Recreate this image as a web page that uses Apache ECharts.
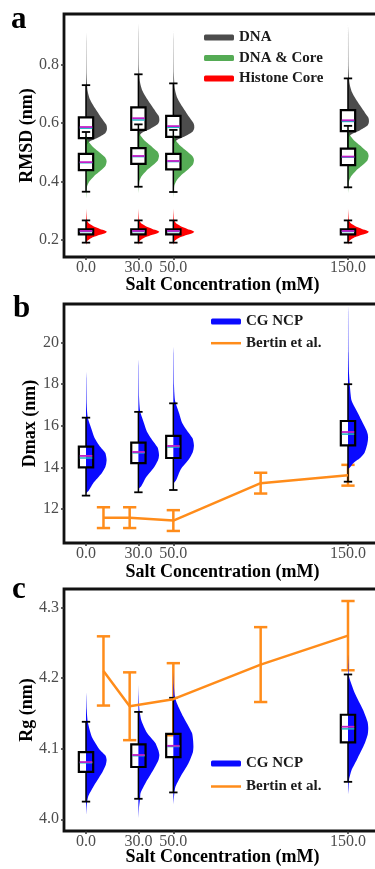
<!DOCTYPE html>
<html>
<head>
<meta charset="utf-8">
<script src="https://cdn.jsdelivr.net/npm/echarts@6/dist/echarts.min.js"></script>
<style>
  html, body { margin: 0; padding: 0; background: #fff; }
  #chart { width: 375px; height: 869px; }
</style>
</head>
<body>
<div id="chart"></div>
<script>
// salt concentrations (mM) of the simulations
const saltTicks = [0, 30, 50, 150];

// panel a: box stats per salt [low whisker, q1, median, q3, high whisker, mean]
const dnaBox = [
  [0.46, 0.548, 0.582, 0.619, 0.729, 0.586],
  [0.462, 0.576, 0.61, 0.653, 0.766, 0.616],
  [0.46, 0.552, 0.585, 0.624, 0.735, 0.589],
  [0.462, 0.572, 0.605, 0.644, 0.752, 0.609],
];
const coreDnaBox = [
  [0.365, 0.439, 0.464, 0.494, 0.569, 0.466],
  [0.382, 0.46, 0.485, 0.514, 0.595, 0.487],
  [0.364, 0.441, 0.468, 0.494, 0.576, 0.47],
  [0.38, 0.456, 0.483, 0.512, 0.59, 0.485],
];
const histoneBox = [
  [0.191, 0.219, 0.229, 0.2365, 0.267, 0.231],
  [0.191, 0.219, 0.229, 0.2365, 0.267, 0.231],
  [0.191, 0.219, 0.229, 0.2365, 0.267, 0.231],
  [0.191, 0.219, 0.229, 0.2365, 0.267, 0.231],
];
// panel a: density peaks and half-violin shapes [offset from peak, half width in mM]
const dnaPeak = [0.58, 0.61, 0.585, 0.605];
const coreDnaPeak = [0.468, 0.487, 0.472, 0.487];
const histonePeak = [0.228, 0.228, 0.228, 0.228];
const dnaShape = [[-0.06, 0], [-0.045, 1.7], [-0.03, 6.9], [-0.015, 11.0], [-0.007, 11.8], [0, 12], [0.008, 11.9], [0.015, 11.5], [0.03, 9.7], [0.05, 7.4], [0.07, 5.2], [0.1, 2.3], [0.13, 0.9], [0.18, 0.3], [0.3, 0.1], [0.33, 0]];
const coreDnaShape = [[-0.13, 0], [-0.11, 0.2], [-0.085, 0.6], [-0.07, 1.7], [-0.05, 4.6], [-0.03, 8.6], [-0.015, 11.1], [-0.007, 11.6], [0, 11.8], [0.007, 11.6], [0.015, 10.9], [0.03, 8], [0.05, 4], [0.07, 1.2], [0.085, 0.3], [0.1, 0]];
const histoneShape = [[-0.045, 0], [-0.03, 0.9], [-0.02, 3.4], [-0.01, 8], [-0.004, 11.2], [0, 12], [0.004, 11], [0.01, 8], [0.02, 4], [0.03, 1.4], [0.04, 0.5], [0.06, 0.2], [0.08, 0]];

// panel b: Dmax (nm)
const dmaxBox = [
  [12.64, 14.0, 14.45, 15.0, 16.39, 14.55],
  [12.8, 14.2, 14.7, 15.19, 16.67, 14.74],
  [12.91, 14.45, 14.98, 15.51, 17.08, 15.03],
  [13.31, 15.06, 15.6, 16.23, 18.0, 15.7],
];
const dmaxViolin = [
  [[12.75, 0], [12.9, 1.7], [13.25, 4.2], [13.72, 9], [14.0, 11], [14.2, 11.6], [14.35, 11.8], [14.5, 11.6], [14.7, 11], [15.0, 8], [15.4, 5], [15.8, 3.3], [16.4, 1], [17.0, 0.4], [18.3, 0.15], [18.6, 0]],
  [[12.95, 0], [13.1, 1.7], [13.5, 4.2], [14.0, 9], [14.3, 11], [14.45, 11.6], [14.6, 11.8], [14.75, 11.6], [14.95, 11], [15.3, 8], [15.7, 5], [16.1, 3.3], [16.7, 1], [17.3, 0.4], [18.9, 0.15], [19.2, 0]],
  [[13.2, 0], [13.4, 1.7], [13.9, 4.2], [14.4, 9], [14.7, 11], [14.9, 11.6], [15.05, 11.8], [15.2, 11.6], [15.4, 11], [15.75, 8], [16.15, 5], [16.6, 3.3], [17.2, 1], [17.9, 0.4], [19.5, 0.15], [19.8, 0]],
  [[13.9, 0], [14.0, 1.2], [14.2, 3], [14.45, 6.9], [14.7, 9.5], [15.1, 11], [15.3, 11.4], [15.45, 11.5], [15.6, 11.3], [15.8, 10.5], [16.3, 7.5], [16.6, 5.7], [17.2, 2.1], [17.8, 1.2], [18.5, 0.6], [19.5, 0.3], [21.5, 0.1], [21.8, 0]],
];

// panel c: Rg (nm)
const rgBox = [
  [4.025, 4.067, 4.08, 4.095, 4.138, 4.081],
  [4.029, 4.074, 4.09, 4.106, 4.152, 4.091],
  [4.038, 4.088, 4.103, 4.121, 4.172, 4.104],
  [4.053, 4.109, 4.128, 4.148, 4.205, 4.131],
];
const rgViolin = [
  [[4.005, 0], [4.02, 0.4], [4.032, 1.2], [4.046, 4.2], [4.065, 9], [4.077, 11.3], [4.084, 11.8], [4.09, 11.2], [4.098, 8], [4.117, 3.3], [4.138, 1], [4.155, 0.4], [4.175, 0.1], [4.18, 0]],
  [[4.0, 0], [4.015, 0.3], [4.03, 1], [4.037, 1.2], [4.051, 4], [4.07, 8.6], [4.084, 11.5], [4.091, 12], [4.098, 11.4], [4.108, 9.7], [4.122, 5], [4.14, 1.7], [4.155, 0.6], [4.175, 0.2], [4.19, 0]],
  [[4.02, 0], [4.035, 0.5], [4.046, 1.2], [4.06, 4], [4.079, 8.6], [4.095, 11.2], [4.103, 11.5], [4.112, 11.3], [4.122, 10.7], [4.145, 5.7], [4.164, 2.1], [4.175, 0.8], [4.19, 0.3], [4.21, 0]],
  [[4.035, 0], [4.045, 0.3], [4.056, 0.6], [4.07, 2.1], [4.084, 5], [4.108, 9.7], [4.12, 11.3], [4.129, 11.6], [4.138, 11.2], [4.155, 8.6], [4.178, 4], [4.202, 0.6], [4.22, 0.2], [4.235, 0]],
];

// Bertin et al. experiment
const bertinSalt = [10, 25, 50, 100, 150];
const bertinDmax = [11.58, 11.58, 11.44, 13.24, 13.62];
const bertinDmaxErr = [0.5, 0.5, 0.5, 0.5, 0.5];
const bertinRg = [4.21, 4.16, 4.17, 4.219, 4.26];
const bertinRgErr = [0.049, 0.048, 0.051, 0.053, 0.049];

const SERIF = "'Liberation Serif', 'DejaVu Serif', serif";
const ORANGE = '#ff8c1a';
const BLUE = '#0a0aff';
const BOX_HALF = 4.1;   // mM
const CAP_HALF = 2.4;   // mM
const ERR_CAP = 3.8;    // mM

const chart = echarts.init(document.getElementById('chart'));

function violinSeries(name, grid, color, opacity, profiles) {
  return {
    type: 'custom', name, xAxisIndex: grid, yAxisIndex: grid,
    itemStyle: { color, opacity },
    data: saltTicks.map((x, i) => [x, profiles[i][0][0]]),
    renderItem: (params, api) => {
      const x = api.value(0);
      const prof = profiles[params.dataIndex];
      const right = prof.map(p => api.coord([x + p[1], p[0]]));
      const left = prof.slice().reverse().map(p => api.coord([x, p[0]]));
      return { type: 'polygon', shape: { points: right.concat(left), smooth: 0.2 }, style: { fill: color, opacity } };
    },
  };
}

function shaped(peaks, shape) {
  return peaks.map(pk => shape.map(([off, w]) => [pk + off, w]));
}

function boxSeries(name, grid, stats, fill) {
  return {
    type: 'custom', name, xAxisIndex: grid, yAxisIndex: grid,
    data: stats.map((s, i) => [saltTicks[i], ...s]),
    renderItem: (params, api) => {
      const x = api.value(0);
      const [lo, q1, med, q3, hi, mean] = [1, 2, 3, 4, 5, 6].map(d => api.value(d));
      const p = (dx, v) => api.coord([x + dx, v]);
      const seg = (a, b, stroke, lineWidth) => ({ type: 'line', shape: { x1: a[0], y1: a[1], x2: b[0], y2: b[1] }, style: { stroke, lineWidth } });
      const bl = p(-BOX_HALF, q1), tr = p(BOX_HALF, q3);
      return {
        type: 'group',
        children: [
          seg(p(0, lo), p(0, q1), '#000', 1.5),
          seg(p(0, q3), p(0, hi), '#000', 1.5),
          seg(p(-CAP_HALF, lo), p(CAP_HALF, lo), '#000', 1.8),
          seg(p(-CAP_HALF, hi), p(CAP_HALF, hi), '#000', 1.8),
          { type: 'rect', shape: { x: bl[0], y: tr[1], width: tr[0] - bl[0], height: bl[1] - tr[1] }, style: { fill, stroke: '#000', lineWidth: 2.2 } },
          seg(p(-BOX_HALF + 0.5, med), p(BOX_HALF - 0.5, med), '#1fb5c0', 1.5),
          seg(p(-BOX_HALF + 0.5, mean), p(BOX_HALF - 0.5, mean), '#c21fc8', 1.8),
        ],
      };
    },
  };
}

function bertinLine(grid, ys) {
  return {
    type: 'line', name: 'Bertin et al.', xAxisIndex: grid, yAxisIndex: grid,
    data: bertinSalt.map((x, i) => [x, ys[i]]),
    symbol: 'none', color: ORANGE,
    lineStyle: { width: 2.5, color: ORANGE }, itemStyle: { color: ORANGE },
  };
}

function bertinErr(grid, ys, errs) {
  return {
    type: 'custom', name: 'Bertin err', xAxisIndex: grid, yAxisIndex: grid,
    data: bertinSalt.map((x, i) => [x, ys[i], errs[i]]),
    renderItem: (params, api) => {
      const x = api.value(0), y = api.value(1), e = api.value(2);
      const p = (dx, v) => api.coord([x + dx, v]);
      const seg = (a, b) => ({ type: 'line', shape: { x1: a[0], y1: a[1], x2: b[0], y2: b[1] }, style: { stroke: ORANGE, lineWidth: 2.5 } });
      return {
        type: 'group',
        children: [seg(p(0, y - e), p(0, y + e)), seg(p(-ERR_CAP, y - e), p(ERR_CAP, y - e)), seg(p(-ERR_CAP, y + e), p(ERR_CAP, y + e))],
      };
    },
  };
}

const grids = [
  { left: 64, top: 14, width: 317, height: 243 },
  { left: 64, top: 304, width: 317, height: 239 },
  { left: 64, top: 589, width: 317, height: 242 },
].map(g => ({ ...g, show: true, borderColor: '#111', borderWidth: 2.8, backgroundColor: 'transparent', outerBoundsMode: 'none' }));

const nameGaps = [19, 20, 17];
const xAxes = [0, 1, 2].map(i => ({
  gridIndex: i, type: 'value', min: -12.6, max: 168.9,
  axisLine: { show: false, onZero: false }, splitLine: { show: false },
  axisTick: { customValues: saltTicks, length: 3, lineStyle: { color: '#333', width: 1.5 } },
  axisLabel: { customValues: saltTicks, formatter: v => v.toFixed(1), fontFamily: SERIF, fontSize: 16, color: '#4d4d4d', margin: 3 },
  name: 'Salt Concentration (mM)', nameLocation: 'middle', nameGap: nameGaps[i], nameMoveOverlap: false,
  nameTextStyle: { fontFamily: SERIF, fontSize: 18, fontWeight: 'bold', color: '#000' },
}));

const yDefs = [
  { name: 'RMSD (nm)', min: 0.142, max: 0.972, ticks: [0.2, 0.4, 0.6, 0.8], fmt: v => v.toFixed(1), gap: 28 },
  { name: 'Dmax (nm)', min: 10.36, max: 21.86, ticks: [12, 14, 16, 18, 20], fmt: v => String(v), gap: 25 },
  { name: 'Rg (nm)', min: 3.9834, max: 4.326, ticks: [4.0, 4.1, 4.2, 4.3], fmt: v => v.toFixed(1), gap: 28 },
];
const yAxes = yDefs.map((d, i) => ({
  gridIndex: i, type: 'value', min: d.min, max: d.max,
  axisLine: { show: false, onZero: false }, splitLine: { show: false },
  axisTick: { customValues: d.ticks, length: 3, lineStyle: { color: '#333', width: 1.5 } },
  axisLabel: { customValues: d.ticks, formatter: d.fmt, fontFamily: SERIF, fontSize: 16, color: '#4d4d4d', margin: 5 },
  name: d.name, nameLocation: 'middle', nameGap: d.gap, nameMoveOverlap: false,
  nameTextStyle: { fontFamily: SERIF, fontSize: 18, fontWeight: 'bold', color: '#000' },
}));

const legendText = { fontFamily: SERIF, fontSize: 15, fontWeight: 'bold', color: '#1a1a1a' };
const lineIcon = 'path://M0,0H30V2.5H0Z';
const legendBase = { orient: 'vertical', padding: 0, itemWidth: 30, itemHeight: 6, itemGap: 5.5, textStyle: legendText };

chart.setOption({
  animation: false,
  grid: grids,
  xAxis: xAxes,
  yAxis: yAxes,
  legend: [
    { ...legendBase, left: 204, top: 30,
      data: [{ name: 'DNA', icon: 'roundRect' }, { name: 'DNA & Core', icon: 'roundRect' }, { name: 'Histone Core', icon: 'roundRect' }] },
    { ...legendBase, left: 211, top: 314, itemGap: 6.7,
      data: [{ name: 'CG NCP', icon: 'roundRect' }, { name: 'Bertin et al.', icon: lineIcon }] },
    { ...legendBase, left: 211, top: 756, itemGap: 8,
      data: [{ name: 'CG NCP', icon: 'roundRect' }, { name: 'Bertin et al.', icon: lineIcon }] },
  ],
  graphic: [
    { type: 'text', left: 11, top: 4, style: { text: 'a', font: `bold 31px ${SERIF}`, fill: '#000' } },
    { type: 'text', left: 13, top: 293, style: { text: 'b', font: `bold 31px ${SERIF}`, fill: '#000' } },
    { type: 'text', left: 12, top: 574, style: { text: 'c', font: `bold 31px ${SERIF}`, fill: '#000' } },
  ],
  series: [
    violinSeries('DNA', 0, '#383838', 0.9, shaped(dnaPeak, dnaShape)),
    boxSeries('DNA box', 0, dnaBox, '#fff'),
    violinSeries('DNA & Core', 0, '#2a962a', 0.8, shaped(coreDnaPeak, coreDnaShape)),
    boxSeries('DNA & Core box', 0, coreDnaBox, '#fff'),
    violinSeries('Histone Core', 0, '#ff0000', 1, shaped(histonePeak, histoneShape)),
    boxSeries('Histone Core box', 0, histoneBox, '#fff'),

    bertinLine(1, bertinDmax),
    bertinErr(1, bertinDmax, bertinDmaxErr),
    violinSeries('CG NCP', 1, BLUE, 1, dmaxViolin),
    boxSeries('CG NCP box', 1, dmaxBox, 'none'),

    bertinLine(2, bertinRg),
    bertinErr(2, bertinRg, bertinRgErr),
    violinSeries('CG NCP', 2, BLUE, 1, rgViolin),
    boxSeries('CG NCP box', 2, rgBox, 'none'),
  ],
});
</script>
</body>
</html>
